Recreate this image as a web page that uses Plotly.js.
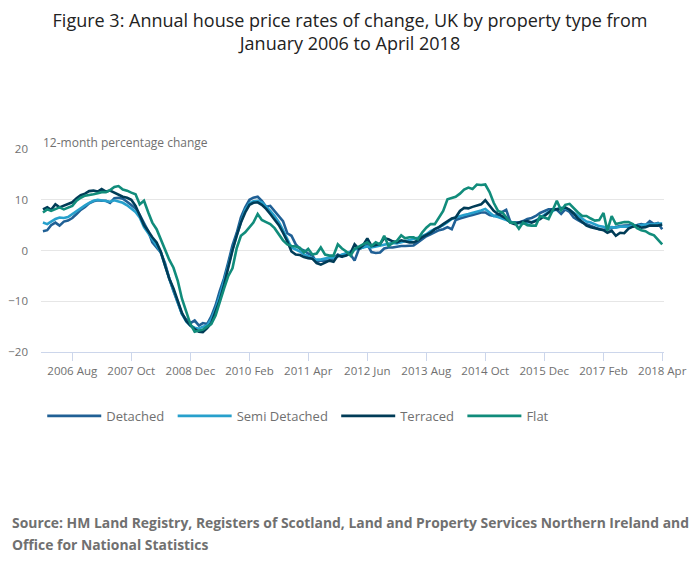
<!DOCTYPE html>
<html>
<head>
<meta charset="utf-8">
<script src="https://cdn.plot.ly/plotly-3.0.1.min.js"></script>
<style>html,body{margin:0;padding:0;background:#fff;}#chart{width:700px;height:574px;}</style>
</head>
<body>
<div id="chart"></div>
<script>
var startMonth = '2006-01';
var seriesNames = ['Detached', 'Semi Detached', 'Terraced', 'Flat'];
var detached = [
3.8,4.0,5.0,5.5,4.9,5.7,5.9,6.4,7.2,8.0,
8.6,9.3,9.7,9.9,9.8,9.8,9.4,10.3,10.4,10.2,
9.6,9.0,8.3,7.0,5.5,3.8,1.6,0.6,-0.4,-2.5,
-5.5,-8.0,-10.3,-12.5,-13.6,-14.3,-13.8,-14.8,-14.3,-14.5,
-13.0,-10.8,-8.0,-5.5,-2.3,1.0,3.5,6.5,8.5,10.0,
10.4,10.6,9.8,8.6,8.8,7.8,6.8,5.8,3.4,2.9,
1.2,0.3,0.0,-0.6,-1.0,-2.3,-2.0,-2.0,-2.0,-1.5,
-0.8,-1.2,-0.5,-0.8,-2.0,0.3,0.6,1.2,-0.3,-0.5,
-0.4,0.4,0.6,0.6,0.8,0.9,0.9,0.9,1.0,1.6,
2.2,2.8,3.2,3.6,4.0,4.2,4.6,4.2,6.0,6.3,
6.6,6.8,7.0,7.3,7.5,7.5,7.0,6.8,7.0,7.6,
8.0,5.6,5.5,5.5,5.8,6.2,6.4,6.8,7.4,7.8,
8.1,8.1,8.0,7.2,8.1,7.6,6.5,6.0,5.5,5.2,
4.9,4.6,4.2,4.1,4.3,4.5,4.6,4.8,4.9,4.9,
4.9,5.0,5.2,5.0,5.8,5.2,5.4,4.2
];
var semiDetached = [
5.5,5.2,5.7,6.2,6.5,6.4,6.6,7.2,7.8,8.4,
8.9,9.4,9.8,10.0,9.9,9.7,9.6,9.9,9.7,9.4,
8.9,8.3,7.6,6.5,4.6,3.4,2.3,1.0,-0.3,-3.0,
-5.5,-7.8,-10.2,-12.5,-14.0,-14.8,-15.2,-15.4,-15.0,-14.8,
-13.5,-11.5,-9.0,-6.2,-3.0,0.2,3.2,5.6,8.0,9.3,
9.7,9.8,9.5,8.7,7.8,6.8,5.6,4.0,2.3,0.6,
0.2,-0.2,-0.8,-1.1,-1.6,-1.8,-1.8,-1.6,-1.4,-1.4,
-1.2,-0.8,-0.6,-0.2,0.2,0.4,0.6,0.8,0.6,0.8,
0.9,1.2,1.4,1.5,1.4,1.6,1.8,2.0,2.2,2.5,
2.8,3.2,3.8,4.2,4.6,5.0,5.6,6.2,6.5,6.8,
7.0,7.2,7.4,7.6,7.9,8.2,7.5,6.8,6.6,6.3,
6.0,5.6,5.4,5.4,5.3,5.5,5.6,5.9,6.5,7.1,
7.6,7.8,8.2,8.4,8.3,8.0,7.4,6.8,6.2,5.7,
5.5,5.2,4.8,4.7,4.4,4.6,4.5,4.7,4.7,4.7,
4.9,4.9,5.0,5.1,5.1,5.2,5.3,5.3
];
var terraced = [
8.1,8.5,8.0,9.1,8.5,8.8,9.1,9.5,10.3,10.9,
11.2,11.7,11.8,11.6,12.1,11.6,11.8,11.4,11.1,10.6,
10.4,10.0,8.8,7.0,5.0,3.8,2.6,1.6,-0.2,-3.0,
-5.5,-7.5,-10.0,-12.3,-13.9,-14.8,-15.5,-16.0,-16.1,-15.3,
-14.3,-12.2,-9.8,-6.8,-3.2,0.0,3.0,5.5,7.5,9.0,
9.4,9.5,9.0,8.2,7.2,6.2,5.0,3.5,1.8,-0.2,
-0.8,-0.9,-1.3,-1.5,-1.6,-2.5,-2.8,-2.4,-2.0,-2.2,
-1.0,-1.2,-1.0,-0.5,1.2,0.3,1.0,2.4,0.9,1.1,
1.3,2.4,2.2,1.8,1.6,2.0,1.8,1.6,1.6,2.0,
2.6,3.0,3.5,4.2,4.6,5.2,5.8,6.3,6.5,7.8,
8.4,8.3,8.6,8.8,9.1,9.9,8.8,7.8,7.2,6.7,
6.3,5.5,5.2,5.5,5.7,5.8,5.5,5.9,6.2,6.8,
7.4,8.1,8.1,8.2,8.5,8.0,7.3,6.3,5.6,4.9,
4.6,4.4,4.2,4.0,3.5,3.9,2.9,3.5,3.4,4.3,
4.7,4.9,4.5,4.6,4.9,4.9,4.9,5.1
];
var flat = [
7.5,8.1,7.8,8.2,8.5,8.1,8.4,8.8,9.8,10.4,
10.8,10.9,11.1,11.3,11.5,11.5,11.9,12.5,12.7,12.0,
11.8,11.4,11.1,9.1,9.8,7.5,5.5,4.2,2.2,0.3,
-1.8,-3.4,-6.0,-9.5,-12.0,-14.5,-16.0,-15.8,-15.6,-15.0,
-14.5,-12.8,-10.0,-7.5,-5.0,-3.5,0.5,2.9,3.6,4.6,
5.5,7.2,6.0,5.6,5.2,4.4,3.2,2.0,1.2,0.9,
0.8,0.5,-0.4,0.3,-0.8,-0.6,0.6,-0.8,-1.0,-1.0,
1.2,0.4,-0.2,-1.0,0.3,0.8,1.2,1.6,0.9,1.6,
1.2,2.9,0.9,1.5,1.9,3.0,2.4,2.6,2.6,2.2,
3.5,4.5,5.2,5.2,6.5,7.8,10.1,10.4,10.6,11.2,
12.0,12.4,12.1,13.0,12.9,13.0,11.5,9.4,7.8,7.5,
6.5,5.5,5.5,4.3,5.5,5.0,4.9,4.9,6.8,6.5,
6.2,8.0,9.8,7.9,9.0,9.2,8.3,7.5,6.8,6.8,
6.3,5.9,6.0,7.4,3.9,6.8,5.2,5.4,5.6,5.6,
5.2,4.4,4.0,3.8,3.3,3.0,2.2,1.2
];
var colors = ['#206095', '#27a0cc', '#003c57', '#118c7b'];

function monthList(start, n) {
  var p = start.split('-');
  var y = +p[0], m = +p[1];
  var out = [];
  for (var i = 0; i < n; i++) {
    out.push(y + '-' + (m < 10 ? '0' + m : m) + '-01');
    m++; if (m > 12) { m = 1; y++; }
  }
  return out;
}
var dates = monthList(startMonth, detached.length);
var allSeries = [detached, semiDetached, terraced, flat];
var traces = allSeries.map(function (vals, i) {
  return {
    type: 'scatter', mode: 'lines', name: seriesNames[i] + '\u00a0',
    x: dates, y: vals,
    line: {color: colors[i], width: 2.6}
  };
});

var fontFam = '"Open Sans", sans-serif';
var layout = {
  width: 700, height: 574,
  margin: {l: 41, r: 36, t: 149, b: 222},
  paper_bgcolor: '#fff', plot_bgcolor: '#fff',
  font: {family: fontFam, color: '#707070'},
  title: {
    text: 'Figure 3: Annual house price rates of change, UK by property type from<br>January 2006 to April 2018',
    font: {family: fontFam, size: 18, color: '#222'},
    x: 0.5, xanchor: 'center', xref: 'container',
    y: 1 - 27 / 574, yanchor: 'middle', yref: 'container'
  },
  xaxis: {
    type: 'date',
    range: ['2005-12-18', '2018-04-14'],
    tick0: '2006-08-01', dtick: 'M14', tickformat: '%Y %b',
    ticks: 'outside', ticklen: 8, tickcolor: '#ccd6eb', tickwidth: 1,
    showline: true, linecolor: '#ccd6eb', linewidth: 1,
    showgrid: false, zeroline: false,
    tickfont: {family: fontFam, size: 11.5, color: '#707070'}
  },
  yaxis: {
    range: [-20, 20], dtick: 10, tick0: 0,
    showgrid: true, gridcolor: '#e6e6e6', gridwidth: 1,
    zeroline: false, showline: false, ticks: '',
    ticklabelstandoff: 12,
    tickfont: {family: fontFam, size: 11.5, color: '#707070'}
  },
  showlegend: true,
  legend: {
    orientation: 'h', x: 0.002, xanchor: 'left',
    y: -0.315, yanchor: 'middle',
    font: {family: fontFam, size: 13, color: '#707070'},
    itemwidth: 54, tracegroupgap: 0, traceorder: 'normal'
  },
  annotations: [
    {text: '12-month percentage change', xref: 'paper', yref: 'paper', x: 0, y: 1,
     xanchor: 'left', yanchor: 'bottom', showarrow: false, yshift: -4,
     font: {family: fontFam, size: 12, color: '#707070'}},
    {text: '<b>Source: HM Land Registry, Registers of Scotland, Land and Property Services Northern Ireland and</b>',
     xref: 'paper', yref: 'paper', x: (10 - 41) / 623, y: (574 - 522 - 222) / 203,
     xanchor: 'left', yanchor: 'middle', showarrow: false,
     font: {family: fontFam, size: 13.9, color: '#707070'}},
    {text: '<b>Office for National Statistics</b>',
     xref: 'paper', yref: 'paper', x: (10 - 41) / 623, y: (574 - 544 - 222) / 203,
     xanchor: 'left', yanchor: 'middle', showarrow: false,
     font: {family: fontFam, size: 13.9, color: '#707070'}}
  ]
};
Plotly.newPlot('chart', traces, layout, {displayModeBar: false, staticPlot: true});
</script>
</body>
</html>
